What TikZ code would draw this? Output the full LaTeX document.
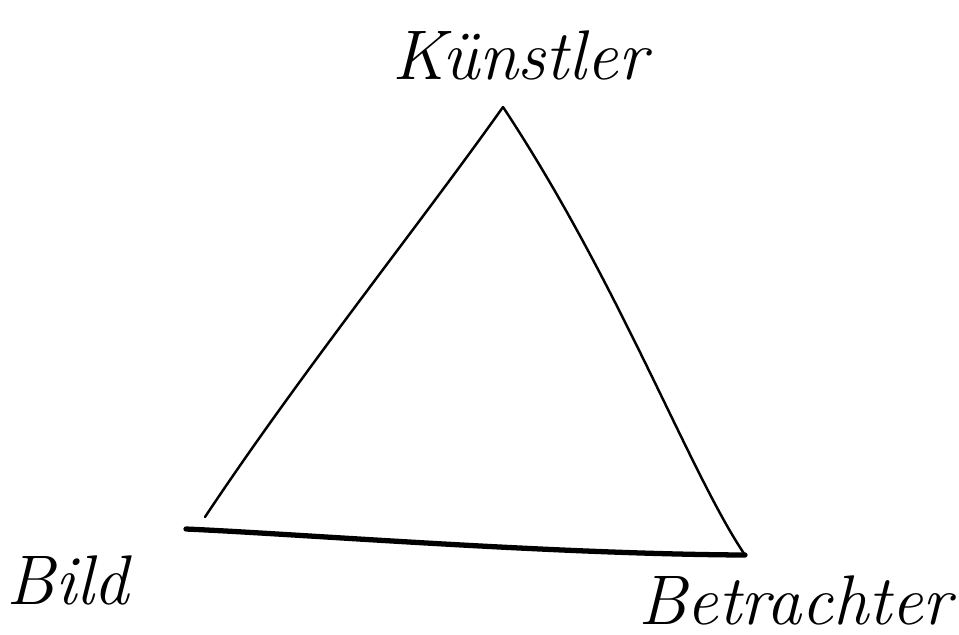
\documentclass[tikz,border=0pt]{standalone}
\usepackage{tikz}
\usetikzlibrary{positioning}
\tikzset{
    corner/.style={font=\fontsize{20}{24}\selectfont\itshape, inner sep=0pt},
    side/.style={line width=0.7pt, line cap=round, line join=round},
    base/.style={line width=1.5pt, line cap=round},
}

\begin{document}
\begin{tikzpicture}
    \useasboundingbox (0,0) rectangle (9.59,6.34);
    \coordinate (top) at (5.03,5.27);
    \coordinate (lft) at (2.05,1.17);
    \coordinate (bl) at (1.86,1.05);
    \coordinate (rgt) at (7.45,0.79);

    \node[corner] (kuenstler) at (5.2,5.79) {Künstler};
    \node[corner] (bild) at (0.68,0.54) {Bild};
    \node[corner] (betrachter) at (7.95,0.34) {Betrachter};

    \draw[side] (lft) .. controls (3.0,2.6) and (4.2,4.1) .. (top);
    \draw[side] (top) .. controls (6.2,3.5) and (6.9,1.6) .. (rgt);
    \draw[base] (bl) .. controls (3.0,1.0) and (5.5,0.8) .. (rgt);
\end{tikzpicture}
\end{document}
